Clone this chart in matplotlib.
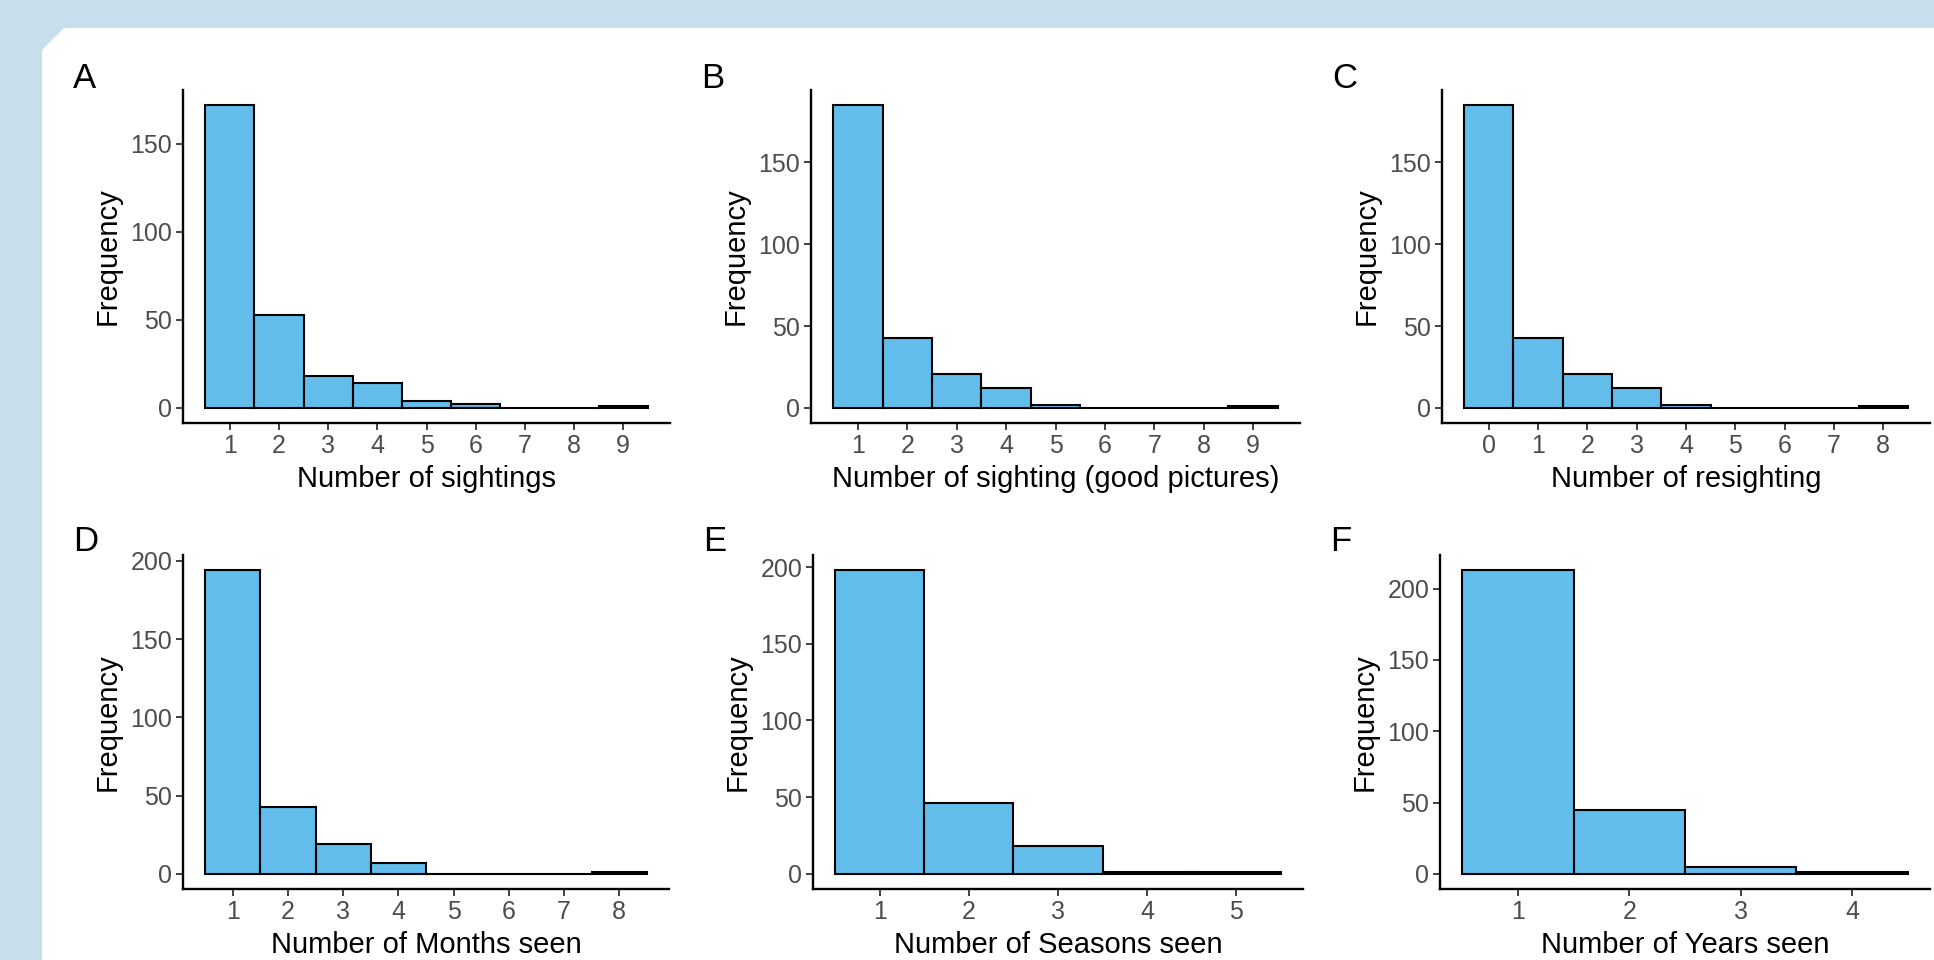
import matplotlib
matplotlib.use("Agg")
import matplotlib.pyplot as plt
from matplotlib.patches import Polygon

plt.rcParams["font.family"] = ["Liberation Sans", "DejaVu Sans"]

# counts per category
sightings_x = [1, 2, 3, 4, 5, 6, 7, 8, 9]
sightings_n = [172, 53, 18, 14, 4, 2, 0, 0, 1]
good_x = [1, 2, 3, 4, 5, 6, 7, 8, 9]
good_n = [185, 43, 21, 12, 2, 0, 0, 0, 1]
resight_x = [0, 1, 2, 3, 4, 5, 6, 7, 8]
resight_n = [185, 43, 21, 12, 2, 0, 0, 0, 1]
months_x = [1, 2, 3, 4, 5, 6, 7, 8]
months_n = [194, 43, 19, 7, 0, 0, 0, 1]
seasons_x = [1, 2, 3, 4, 5]
seasons_n = [198, 46, 18, 1, 1]
years_x = [1, 2, 3, 4]
years_n = [213, 45, 5, 1]

letters = ["A", "B", "C", "D", "E", "F"]
xlabels = ["Number of sightings", "Number of sighting (good pictures)",
           "Number of resighting", "Number of Months seen",
           "Number of Seasons seen", "Number of Years seen"]
yticks_top = [0, 50, 100, 150]
yticks_bot = [0, 50, 100, 150, 200]

W, H = 1934, 960
FILL = "#62bdeb"
FRAME = "#c7dfec"

fig = plt.figure(figsize=(W / 100, H / 100), dpi=100)
fig.patch.set_facecolor(FRAME)
# white page with a clipped top-left corner
pts = [(42, 960), (42, 50), (64, 28), (1934, 28), (1934, 960)]
fig.patches.append(Polygon([(x / W, 1 - y / H) for x, y in pts], closed=True,
                           transform=fig.transFigure, facecolor="white",
                           edgecolor="none", zorder=-5))


def px_axes(left, top, right, bottom):
    return fig.add_axes([left / W, 1 - bottom / H, (right - left) / W, (bottom - top) / H])


boxes = [(183, 90, 670, 423), (811, 90, 1300, 423), (1442, 90, 1930, 423),
         (183, 555, 669, 889), (813, 555, 1303, 889), (1440, 555, 1930, 889)]
series = [(sightings_x, sightings_n, yticks_top), (good_x, good_n, yticks_top),
          (resight_x, resight_n, yticks_top), (months_x, months_n, yticks_bot),
          (seasons_x, seasons_n, yticks_bot), (years_x, years_n, yticks_bot)]

for i, (box, (xs, ns, yt), letter, xl) in enumerate(zip(boxes, series, letters, xlabels)):
    ax = px_axes(*box)
    ax.bar(xs, ns, width=1.0, color=FILL, edgecolor="black", linewidth=1.5, zorder=2)
    lo, hi = xs[0] - 0.5, xs[-1] + 0.5
    pad = 0.05 * (hi - lo)
    ax.set_xlim(lo - pad, hi + pad)
    top = max(ns)
    ax.set_ylim(-0.05 * top, 1.05 * top)
    ax.set_xticks(xs)
    ax.set_yticks(yt)
    for s in ["top", "right"]:
        ax.spines[s].set_visible(False)
    for s in ["left", "bottom"]:
        ax.spines[s].set_linewidth(1.7)
        ax.spines[s].set_color("black")
    ax.tick_params(length=4.8, width=1.3, color="#333333", labelcolor="#4d4d4d",
                   labelsize=18, pad=3)
    ax.set_xlabel(xl, fontsize=21, labelpad=5)
    ax.set_ylabel("Frequency", fontsize=21, labelpad=6)
    ax.set_facecolor("none")
    base = box[1] - 2 if i < 3 else box[1] - 4
    fig.text((box[0] - 110) / W, 1 - base / H, letter, fontsize=25,
             ha="left", va="baseline")

fig.savefig("out.png", dpi=100, facecolor=fig.get_facecolor())
